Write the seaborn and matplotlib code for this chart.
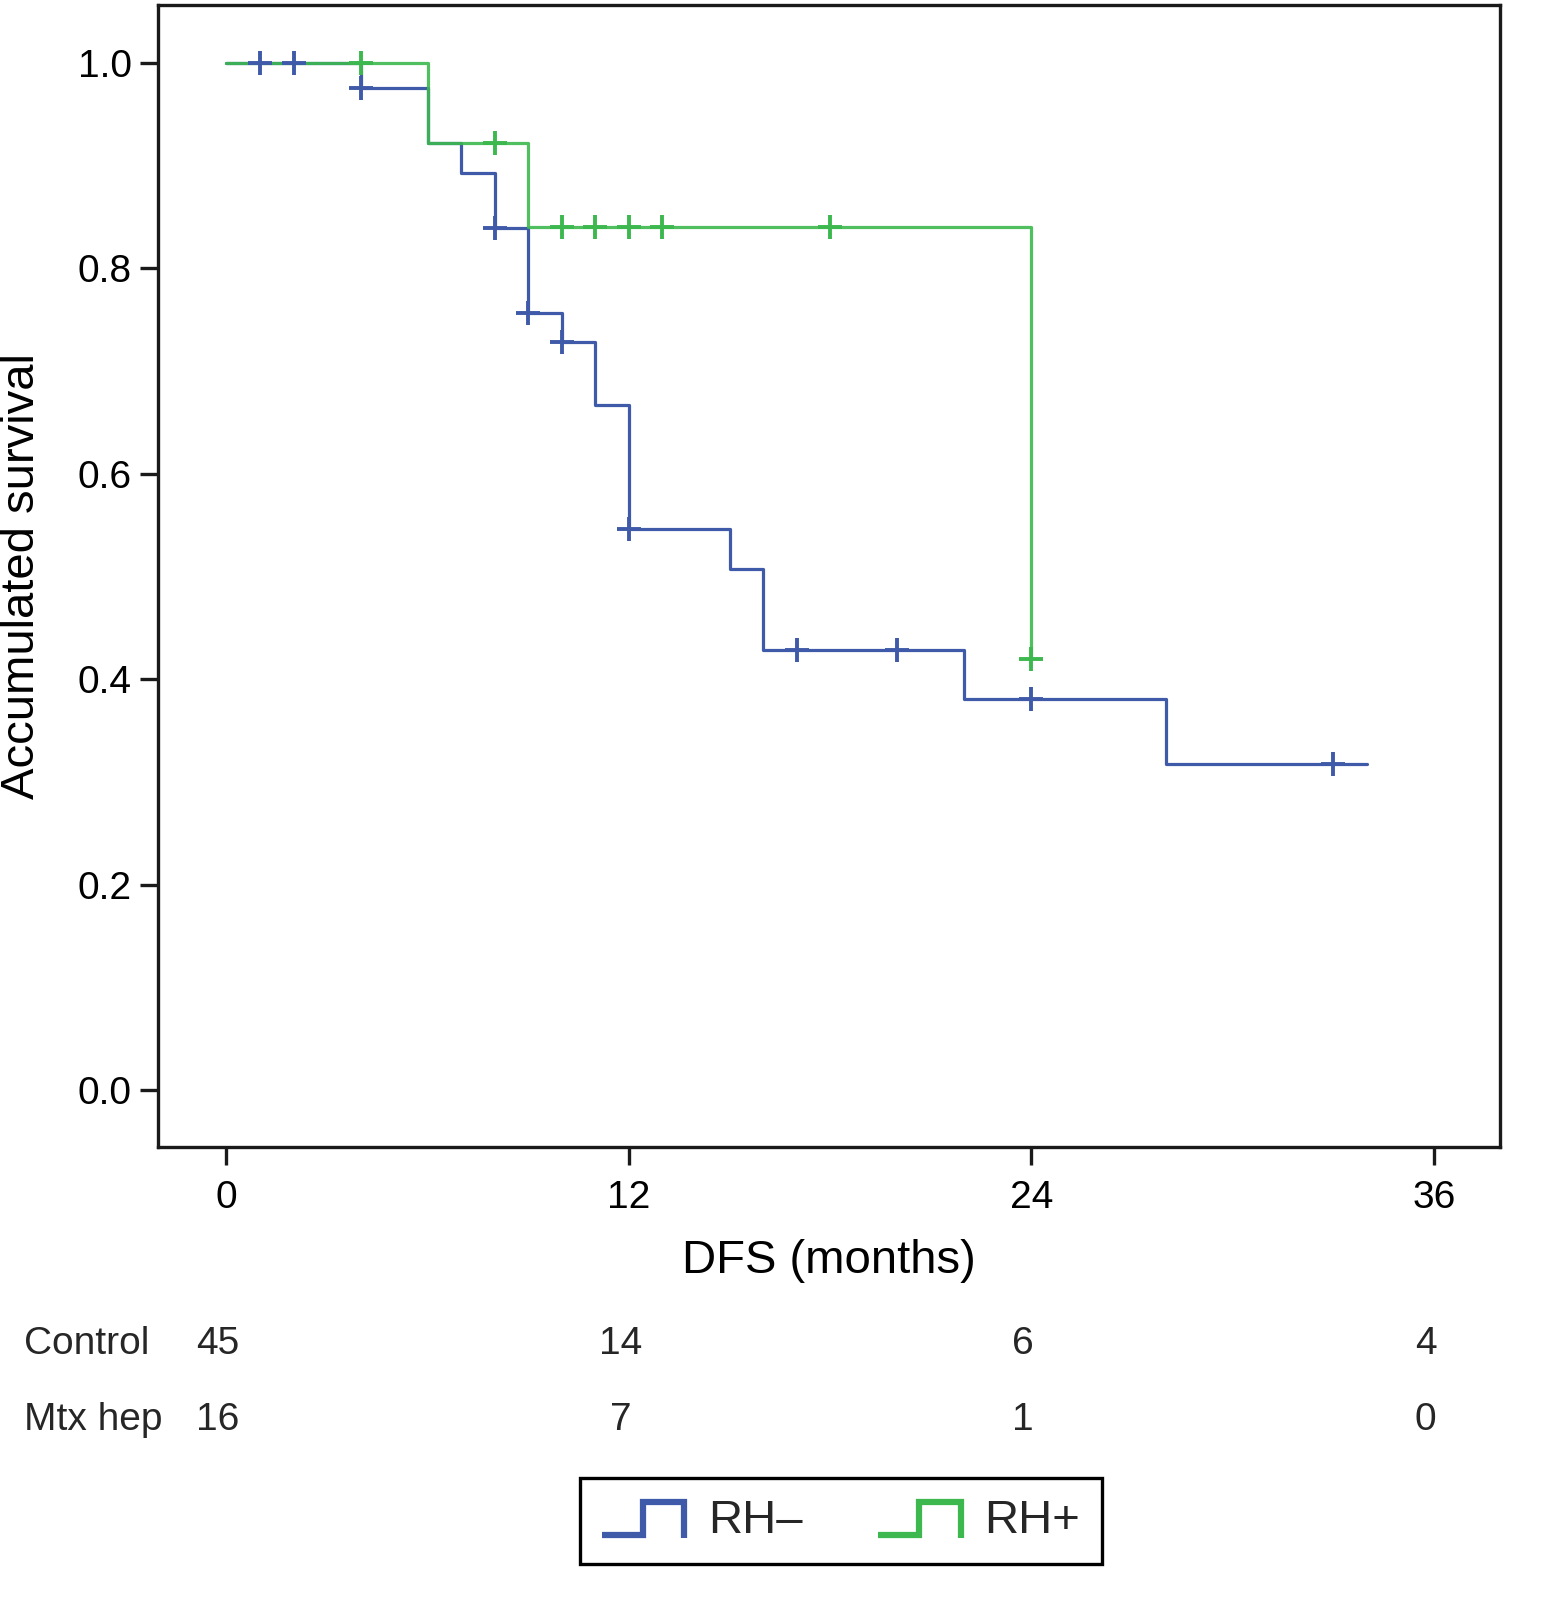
import numpy as np
import pandas as pd
import matplotlib
matplotlib.use("Agg")
import matplotlib.pyplot as plt
import seaborn as sns
from matplotlib.lines import Line2D
from matplotlib.legend_handler import HandlerBase
from matplotlib.transforms import blended_transform_factory

# ---------------- data ----------------
groups = ["RH\u2013", "RH+"]

rh_neg_times = [0, 4, 6, 7, 8, 9, 10, 11, 12, 15, 16, 22, 28, 34]
rh_neg_surv = [1.0, 0.976, 0.922, 0.893, 0.839, 0.757, 0.728, 0.667, 0.546,
               0.507, 0.428, 0.381, 0.317, 0.317]
rh_neg_cens_t = [1, 2, 4, 8, 9, 10, 12, 17, 20, 24, 33]
rh_neg_cens_s = [1.0, 1.0, 0.976, 0.839, 0.757, 0.728, 0.546, 0.428, 0.428,
                 0.381, 0.317]

rh_pos_times = [0, 6, 9, 24]
rh_pos_surv = [1.0, 0.922, 0.84, 0.42]
rh_pos_cens_t = [4, 8, 10, 11, 12, 13, 18, 24]
rh_pos_cens_s = [1.0, 0.922, 0.84, 0.84, 0.84, 0.84, 0.84, 0.42]

risk_times = [0, 12, 24, 36]
risk_labels = ["Control", "Mtx hep"]
risk_control = [45, 14, 6, 4]
risk_mtx = [16, 7, 1, 0]

x_ticks = [0, 12, 24, 36]
y_ticks = [0.0, 0.2, 0.4, 0.6, 0.8, 1.0]

colors = {"RH\u2013": "#3f5aa8", "RH+": "#3cb84e"}

# ---------------- frames ----------------
curves = pd.concat([
    pd.DataFrame({"time": rh_neg_times, "surv": rh_neg_surv, "group": groups[0]}),
    pd.DataFrame({"time": rh_pos_times, "surv": rh_pos_surv, "group": groups[1]}),
], ignore_index=True)
cens = pd.concat([
    pd.DataFrame({"time": rh_neg_cens_t, "surv": rh_neg_cens_s, "group": groups[0]}),
    pd.DataFrame({"time": rh_pos_cens_t, "surv": rh_pos_cens_s, "group": groups[1]}),
], ignore_index=True)

# ---------------- figure ----------------
sns.set_style("white")
plt.rcParams["font.family"] = ["Liberation Sans", "DejaVu Sans"]

W, H = 1547, 1613
fig = plt.figure(figsize=(W / 100, H / 100), dpi=100)
ax = fig.add_axes([158 / W, 1 - 1147 / H, (1500 - 158) / W, (1147 - 5) / H])

sns.lineplot(data=curves[curves.group == groups[0]], x="time", y="surv",
             color=colors[groups[0]], drawstyle="steps-post", estimator=None,
             sort=False, lw=2.3, ax=ax, legend=False)
sns.scatterplot(data=cens[cens.group == groups[0]], x="time", y="surv",
                color=colors[groups[0]], marker="+", s=300, linewidth=2.8,
                ax=ax, legend=False, zorder=3)
sns.lineplot(data=curves[curves.group == groups[1]], x="time", y="surv",
             color=colors[groups[1]], drawstyle="steps-post", estimator=None,
             sort=False, lw=2.3, ax=ax, legend=False, alpha=0.9)
sns.scatterplot(data=cens[cens.group == groups[1]], x="time", y="surv",
                color=colors[groups[1]], marker="+", s=300, linewidth=2.8,
                ax=ax, legend=False, zorder=3)

ax.set_xlim(-2.04, 37.97)
ax.set_ylim(-0.0555, 1.0565)
ax.set_xticks(x_ticks)
ax.set_xticklabels([str(t) for t in x_ticks])
ax.set_yticks(y_ticks)
ax.set_yticklabels([f"{v:.1f}" for v in y_ticks])

for s in ax.spines.values():
    s.set_visible(True)
    s.set_color("#1a1a1a")
    s.set_linewidth(2.4)

ax.tick_params(axis="both", direction="out", length=13, width=2.4,
               color="#1a1a1a", labelsize=28, labelcolor="black")
ax.tick_params(axis="x", pad=11, bottom=True)
ax.tick_params(axis="y", pad=6, left=True)

ax.set_xlabel("DFS (months)", fontsize=34, labelpad=16, color="black")
ax.set_ylabel("Accumulated survival", fontsize=34, labelpad=24, color="black")

# ---------------- risk table ----------------
tr = blended_transform_factory(ax.transData, fig.transFigure)
row_y = [1 - 1344 / H, 1 - 1420 / H]
for lbl, yy in zip(risk_labels, row_y):
    fig.text(24 / W, yy, lbl, fontsize=28, ha="left", va="center")
for vals, yy in zip([risk_control, risk_mtx], row_y):
    for t, v in zip(risk_times, vals):
        ax.text(t - 0.25, yy, str(v), transform=tr, fontsize=28,
                ha="center", va="center", clip_on=False)

# ---------------- legend ----------------
class StepHandler(HandlerBase):
    def create_artists(self, legend, orig_handle, xdescent, ydescent,
                       width, height, fontsize, trans):
        xs = np.array([0.0, 0.5, 0.5, 1.0, 1.0]) * width - xdescent
        ys = np.array([-0.05, -0.05, 0.95, 0.95, -0.15]) * height - ydescent
        ln = Line2D(xs, ys, color=orig_handle.get_color(), lw=4.5,
                    solid_joinstyle="miter", solid_capstyle="butt")
        ln.set_transform(trans)
        return [ln]

handles = [Line2D([], [], color=colors[g]) for g in groups]
leg = fig.legend(handles, groups, loc="center",
                 bbox_to_anchor=(841 / W, 1 - 1521 / H), ncol=2,
                 fontsize=34, frameon=True, fancybox=False, shadow=False,
                 handlelength=1.75, handletextpad=0.5, columnspacing=1.6,
                 borderpad=0.45, handler_map={Line2D: StepHandler()})
fr = leg.get_frame()
fr.set_edgecolor("black")
fr.set_linewidth(2.4)
fr.set_facecolor("white")
fr.set_alpha(1)

fig.savefig("out.png", dpi=100)
